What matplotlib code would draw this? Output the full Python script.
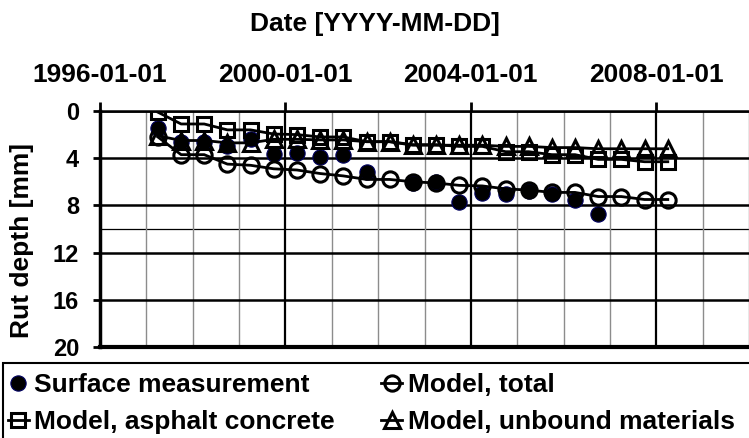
import matplotlib
matplotlib.use('Agg')
import matplotlib.pyplot as plt
import matplotlib.dates as mdates
from matplotlib.patches import Rectangle
import numpy as np
import pandas as pd

plt.rcParams['font.family'] = ['Liberation Sans', 'DejaVu Sans']
plt.rcParams['font.weight'] = 'bold'

# survey dates (twice a year)
dates = pd.to_datetime([
    '1997-04-01', '1997-10-01', '1998-04-01', '1998-10-01', '1999-04-01',
    '1999-10-01', '2000-04-01', '2000-10-01', '2001-04-01', '2001-10-01',
    '2002-04-01', '2002-10-01', '2003-04-01', '2003-10-01', '2004-04-01',
    '2004-10-01', '2005-04-01', '2005-10-01', '2006-04-01', '2006-10-01',
    '2007-04-01', '2007-10-01', '2008-04-01'])

nan = np.nan
surface = [1.45, 2.65, 2.65, 2.95, 2.4, 3.65, 3.55, 3.9, 3.7, 5.2, nan,
           6.1, 6.05, 7.7, 6.95, 7.0, 6.75, 7.0, 7.55, 8.7, nan, nan, nan]
model_total = [2.2, 3.7, 3.7, 4.5, 4.6, 4.9, 5.0, 5.3, 5.5, 5.8, 5.8, 6.0,
               6.1, 6.3, 6.35, 6.6, 6.7, 6.9, 6.9, 7.25, 7.25, 7.5, 7.5]
model_ac = [0.1, 1.1, 1.1, 1.6, 1.6, 1.95, 2.0, 2.2, 2.2, 2.6, 2.6, 2.85,
            2.85, 3.0, 3.0, 3.45, 3.45, 3.7, 3.7, 4.1, 4.1, 4.3, 4.3]
model_ub = [2.1, 2.5, 2.5, 2.7, 2.7, 2.4, 2.4, 2.45, 2.45, 2.6, 2.6, 2.9,
            2.9, 2.9, 2.9, 3.0, 3.0, 3.1, 3.1, 3.2, 3.2, 3.2, 3.2]

W, H = 749, 438
fig = plt.figure(figsize=(W / 100, H / 100), dpi=100)
ax = fig.add_axes([100 / W, 1 - 347 / H, 649 / W, 236 / H])

ms = 11
h_meas, = ax.plot(dates, surface, 'o', ms=ms, mfc='black', mec='#000060',
                  mew=0.8, ls='none', zorder=3, label='Surface measurement')
h_tot, = ax.plot(dates, model_total, '-o', ms=ms, color='black', mfc='none',
                 mew=2.2, lw=2, zorder=4, label='Model, total')
h_ac, = ax.plot(dates, model_ac, '-s', ms=ms - 0.5, color='black', mfc='none',
                mew=2.2, lw=2, zorder=4, label='Model, asphalt concrete')
h_ub, = ax.plot(dates, model_ub, '-^', ms=ms, color='black', mfc='none',
                mew=2.2, lw=2, zorder=5, label='Model, unbound materials')

ax.set_xlim(pd.Timestamp('1996-01-01'), pd.Timestamp('2010-01-01'))
ax.set_ylim(20, 0)
ax.set_yticks([0, 4, 8, 12, 16, 20])

ax.xaxis.tick_top()
ax.xaxis.set_major_locator(mdates.YearLocator(4))
ax.xaxis.set_minor_locator(mdates.YearLocator(1))
ax.xaxis.set_major_formatter(mdates.DateFormatter('%Y-%m-%d'))

ax.tick_params(axis='x', which='major', length=6.5, width=2, pad=11,
               labelsize=19)
ax.tick_params(axis='x', which='minor', length=0)
ax.tick_params(axis='y', length=5, width=2, pad=10, labelsize=17)

ax.grid(True, axis='x', which='major', color='black', lw=1.6)
ax.grid(True, axis='x', which='minor', color='#8c8c8c', lw=1)
ax.grid(True, axis='y', which='major', color='black', lw=1.8)
ax.axhline(10, color='black', lw=0.9, zorder=0.5)
ax.set_axisbelow(True)

ax.spines['right'].set_visible(False)
ax.spines['top'].set_linewidth(1.8)
ax.spines['left'].set_linewidth(2.5)
ax.spines['bottom'].set_linewidth(3)

fig.text(0.5, 1 - 24 / H, 'Date [YYYY-MM-DD]', ha='center', va='center',
         fontsize=19, fontweight='bold')
fig.text(22 / W, 1 - 240 / H, 'Rut depth [mm]', rotation=90, ha='center',
         va='center', fontsize=19, fontweight='bold')

# legend box runs off the bottom/right of the picture
fig.patches.append(Rectangle((3 / W, -0.2), 1.2, 0.2 + (H - 363) / H,
                             transform=fig.transFigure, fill=False,
                             ec='black', lw=1.5))
fig.legend(handles=[h_meas, h_ac, h_tot, h_ub], ncol=2, loc='upper left',
           bbox_to_anchor=(0.0, 1 - 365 / H), frameon=False, fontsize=19,
           handlelength=0.8, handletextpad=0.2, columnspacing=1.75,
           labelspacing=0.5, borderaxespad=0, borderpad=0.3)

fig.savefig('out.png', dpi=100)
